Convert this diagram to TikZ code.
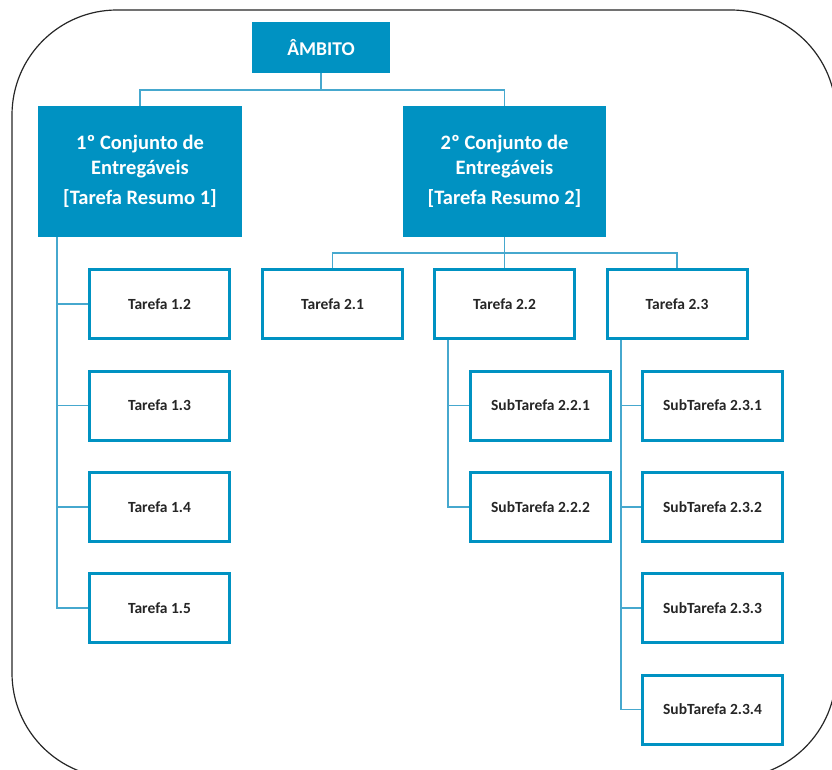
\documentclass[tikz,border=0pt]{standalone}
\usepackage{fontspec}
\setmainfont{Carlito}
\begin{document}
\begin{tikzpicture}[x=1pt,y=-1pt,
  every node/.style={font=\bfseries},
  head/.style={fill=wbsblue, text=white, font=\bfseries\fontsize{20.5}{25}\selectfont, align=center, inner sep=0pt},
  task/.style={draw=wbsblue, line width=3pt, fill=white, text=wbstext, font=\bfseries\fontsize{15.5}{18}\selectfont,
               minimum width=140pt, minimum height=69pt, inner sep=0pt},
  conn/.style={draw=wbsline, line width=1.5pt}]
\definecolor{wbsblue}{RGB}{0,146,194}
\definecolor{wbsline}{RGB}{70,168,206}
\definecolor{wbstext}{RGB}{38,38,38}
\useasboundingbox (0,0) rectangle (832,769);
\begin{scope}
  \clip (0,0) rectangle (832,769);
  \draw[line width=1.2pt, black!85, rounded corners=105pt] (12,10) rectangle (836,778);
\end{scope}

% top level
\node[head, minimum width=138pt, minimum height=51pt, font=\bfseries\fontsize{19.5}{24}\selectfont] (amb) at (321,47.5) {ÂMBITO};
\node[head, minimum width=204pt, minimum height=131pt] (c1) at (140,171.5)
  {1º Conjunto de\\Entregáveis\\[5pt][Tarefa Resumo 1]};
\node[head, minimum width=203pt, minimum height=131pt] (c2) at (504.5,171.5)
  {2º Conjunto de\\Entregáveis\\[5pt][Tarefa Resumo 2]};

% first branch
\node[task] (t12) at (159.5,304) {Tarefa 1.2};
\node[task] (t13) at (159.5,405.5) {Tarefa 1.3};
\node[task] (t14) at (159.5,507) {Tarefa 1.4};
\node[task] (t15) at (159.5,608) {Tarefa 1.5};

% second branch
\node[task] (t21) at (332.5,304) {Tarefa 2.1};
\node[task] (t22) at (504.5,304) {Tarefa 2.2};
\node[task] (t23) at (677,304) {Tarefa 2.3};

\node[task] (s221) at (540.5,405.5) {SubTarefa 2.2.1};
\node[task] (s222) at (540.5,507) {SubTarefa 2.2.2};

\node[task] (s231) at (712.5,405.5) {SubTarefa 2.3.1};
\node[task] (s232) at (712.5,507) {SubTarefa 2.3.2};
\node[task] (s233) at (712.5,608) {SubTarefa 2.3.3};
\node[task] (s234) at (712.5,709.5) {SubTarefa 2.3.4};

% connectors
\coordinate (bus0) at (321,90);
\draw[conn] (amb.south) -- (bus0);
\draw[conn] (bus0) -| (c1.north);
\draw[conn] (bus0) -| (c2.north);

\coordinate (bus2) at (504.5,253);
\draw[conn] (c2.south) -- (bus2);
\draw[conn] (bus2) -| (t21.north);
\draw[conn] (bus2) -- (t22.north);
\draw[conn] (bus2) -| (t23.north);

\coordinate (tr1) at (57,237);
\draw[conn] (tr1) |- (t15.west);
\foreach \n in {t12,t13,t14} \draw[conn] (tr1 |- \n.west) -- (\n.west);

\coordinate (tr22) at (448,340);
\draw[conn] (tr22) |- (s222.west);
\draw[conn] (tr22 |- s221.west) -- (s221.west);

\coordinate (tr23) at (621,340);
\draw[conn] (tr23) |- (s234.west);
\foreach \n in {s231,s232,s233} \draw[conn] (tr23 |- \n.west) -- (\n.west);
\end{tikzpicture}
\end{document}
